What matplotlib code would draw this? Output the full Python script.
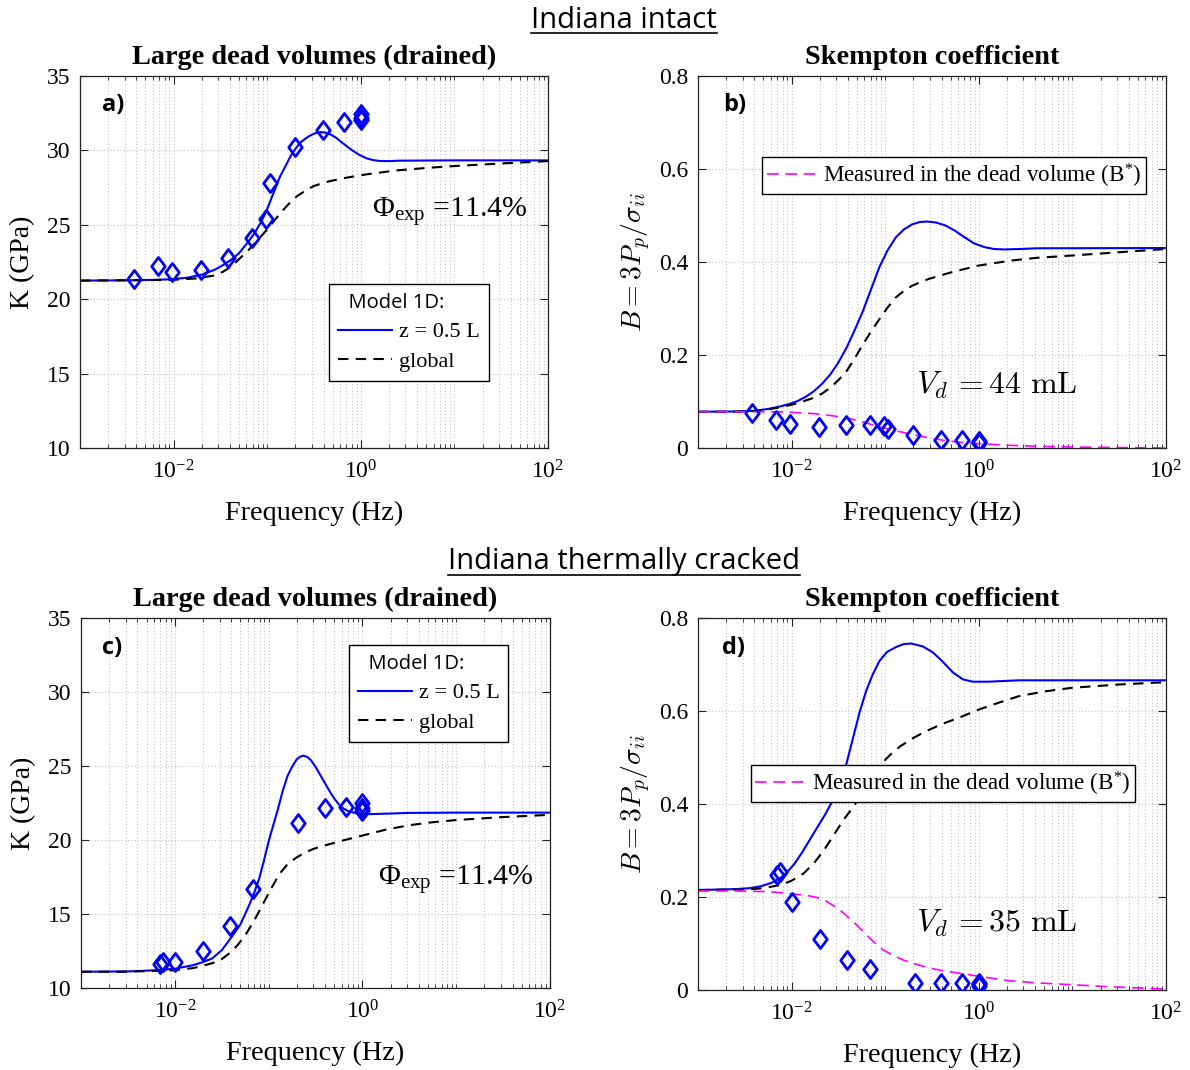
import numpy as np
import matplotlib
matplotlib.use('Agg')
import matplotlib.pyplot as plt
from matplotlib.path import Path
from matplotlib.ticker import FixedLocator, LogLocator, FuncFormatter, NullFormatter
from matplotlib.lines import Line2D

plt.rcParams['font.family'] = ['Liberation Serif', 'DejaVu Serif']
plt.rcParams['mathtext.fontset'] = 'custom'
plt.rcParams['mathtext.rm'] = 'Liberation Serif'
plt.rcParams['mathtext.it'] = 'Liberation Serif:italic'
plt.rcParams['mathtext.bf'] = 'Liberation Serif:bold'

# ---------------- data: Indiana intact ----------------
freq_intact = [0.0038, 0.0068, 0.0096, 0.0196, 0.038, 0.068, 0.096, 0.106,
               0.20, 0.39, 0.66, 1.0, 1.0, 1.0]
K_meas_intact = [21.34, 22.2, 21.85, 21.96, 22.79, 24.13, 25.39, 27.83,
                 30.25, 31.37, 31.93, 32.45, 32.2, 32.05]
B_meas_intact = [0.0755, 0.061, 0.0525, 0.045, 0.05, 0.05, 0.047, 0.040,
                 0.027, 0.018, 0.018, 0.016, 0.012, 0.010]

logf_Ka_z = [-3.0, -2.5, -2.2, -2.0, -1.85, -1.7, -1.56, -1.47, -1.38, -1.3, -1.21, -1.14,
             -1.07, -1.01, -0.96, -0.91, -0.86, -0.8, -0.75, -0.7, -0.645, -0.59, -0.54,
             -0.49, -0.433, -0.38, -0.327, -0.27, -0.222, -0.15, -0.082, -0.01, 0.06,
             0.13, 0.2, 0.3, 0.41, 1.0, 2.0]
K_a_z = [21.25, 21.27, 21.3, 21.35, 21.45, 21.65, 21.98, 22.3, 22.67, 23.1, 23.8, 24.4,
         25.14, 25.9, 26.7, 27.5, 28.28, 29.0, 29.62, 30.1, 30.52, 30.8, 31.0,
         31.15, 31.23, 31.2, 31.08, 30.88, 30.63, 30.28, 29.96, 29.68, 29.47,
         29.35, 29.29, 29.28, 29.31, 29.33, 29.33]
logf_Ka_g = [-3.0, -2.5, -2.0, -1.75, -1.56, -1.47, -1.38, -1.3, -1.21, -1.12, -1.03,
             -0.94, -0.856, -0.77, -0.68, -0.59, -0.504, -0.41, -0.327, -0.151, 0.06,
             0.374, 0.7, 1.0, 1.5, 2.0]
K_a_g = [21.25, 21.27, 21.3, 21.4, 21.6, 21.85, 22.22, 22.7, 23.23, 23.85, 24.47,
         25.15, 25.81, 26.4, 26.93, 27.3, 27.6, 27.8, 27.94, 28.17, 28.39,
         28.65, 28.82, 28.95, 29.12, 29.28]

logf_Bb_z = [-3.0, -2.6, -2.4, -2.25, -2.11, -2.02, -1.937, -1.85, -1.762, -1.675,
             -1.587, -1.5, -1.412, -1.325, -1.237, -1.15, -1.062, -0.975, -0.886, -0.8,
             -0.712, -0.63, -0.554, -0.46, -0.361, -0.26, -0.151, -0.05, 0.06, 0.16,
             0.27, 0.45, 0.62, 2.0]
B_b_z = [0.078, 0.0785, 0.080, 0.084, 0.09, 0.095, 0.1008, 0.11, 0.122, 0.138,
         0.158, 0.184, 0.216, 0.254, 0.295, 0.342, 0.389, 0.425, 0.453, 0.47,
         0.481, 0.486, 0.487, 0.485, 0.479, 0.468, 0.453, 0.44, 0.432, 0.428,
         0.427, 0.428, 0.4295, 0.43]
logf_Bb_g = [-3.0, -2.6, -2.4, -2.25, -2.11, -1.94, -1.762, -1.675, -1.587, -1.5,
             -1.412, -1.325, -1.237, -1.15, -1.062, -0.975, -0.886, -0.8, -0.712, -0.62,
             -0.536, -0.41, -0.291, -0.15, -0.011, 0.34, 0.62, 1.0, 1.5, 2.0]
B_b_g = [0.078, 0.0783, 0.0795, 0.083, 0.088, 0.096, 0.108, 0.117, 0.1295, 0.146,
         0.1655, 0.193, 0.223, 0.251, 0.277, 0.302, 0.324, 0.338, 0.349, 0.357,
         0.3635, 0.371, 0.378, 0.385, 0.392, 0.403, 0.409, 0.414, 0.421, 0.428]
logf_Bb_m = [-3.0, -2.5, -2.11, -1.94, -1.762, -1.59, -1.41, -1.24, -1.06, -0.885,
             -0.71, -0.54, -0.36, -0.18, -0.01, 0.3, 0.62, 1.0, 1.5, 2.0]
B_b_m = [0.078, 0.078, 0.0777, 0.076, 0.074, 0.07, 0.065, 0.056, 0.0454, 0.037,
         0.029, 0.022, 0.016, 0.012, 0.0095, 0.006, 0.0037, 0.002, 0.001, 0.0]

# ---------------- data: Indiana thermally cracked ----------------
freq_cracked = [0.0069, 0.0075, 0.0100, 0.020, 0.039, 0.068, 0.207, 0.398,
                0.667, 1.0, 1.0, 1.0]
K_meas_cracked = [11.6, 11.75, 11.74, 12.53, 14.21, 16.68, 21.17, 22.14,
                  22.23, 22.52, 22.18, 21.96]
B_meas_cracked = [0.248, 0.253, 0.19, 0.11, 0.0647, 0.0446, 0.0158, 0.0144,
                  0.0158, 0.0144, 0.008, 0.012]

logf_Kc_z = [-3.0, -2.5, -2.2, -2.0, -1.8, -1.7, -1.6, -1.5, -1.4, -1.3, -1.2, -1.15,
             -1.1, -1.05, -1.0, -0.95, -0.9, -0.85, -0.8, -0.75, -0.7, -0.665, -0.63,
             -0.59, -0.55, -0.5, -0.45, -0.4, -0.35, -0.3, -0.25, -0.2, -0.15, -0.05,
             0.05, 0.2, 0.5, 1.0, 2.0]
K_c_z = [11.1, 11.12, 11.2, 11.3, 11.55, 11.75, 12.0, 12.55, 13.4, 14.3, 15.7, 16.5,
         17.4, 18.6, 19.9, 21.0, 22.1, 23.3, 24.3, 24.95, 25.45, 25.62, 25.7,
         25.62, 25.4, 24.95, 24.4, 23.85, 23.3, 22.8, 22.4, 22.12, 21.95, 21.78,
         21.74, 21.77, 21.83, 21.85, 21.85]
logf_Kc_g = [-3.0, -2.5, -2.0, -1.8, -1.7, -1.59, -1.5, -1.416, -1.33, -1.24, -1.15,
             -1.06, -0.97, -0.885, -0.8, -0.707, -0.62, -0.53, -0.44, -0.35, -0.2, 0.0,
             0.25, 0.5, 0.75, 1.0, 1.5, 2.0]
K_c_g = [11.1, 11.1, 11.2, 11.35, 11.5, 11.7, 11.95, 12.35, 12.9, 13.65, 14.6,
         15.67, 16.75, 17.7, 18.35, 18.8, 19.12, 19.38, 19.57, 19.72, 19.98, 20.3,
         20.7, 21.0, 21.2, 21.35, 21.55, 21.7]

logf_Bd_z = [-3.0, -2.6, -2.45, -2.33, -2.22, -2.117, -2.05, -1.975, -1.89, -1.8,
             -1.71, -1.64, -1.57, -1.49, -1.416, -1.34, -1.27, -1.2, -1.13, -1.06,
             -0.98, -0.88, -0.8, -0.72, -0.6, -0.49, -0.38, -0.277, -0.17, -0.065,
             0.1, 0.43, 2.0]
B_d_z = [0.215, 0.217, 0.219, 0.223, 0.23, 0.241, 0.253, 0.27, 0.295, 0.325,
         0.355, 0.378, 0.404, 0.44, 0.485, 0.545, 0.6, 0.645, 0.68, 0.708,
         0.727, 0.738, 0.744, 0.745, 0.739, 0.726, 0.705, 0.683, 0.668, 0.663,
         0.663, 0.666, 0.666]
logf_Bd_g = [-3.0, -2.5, -2.3, -2.117, -2.0, -1.87, -1.76, -1.657, -1.55, -1.445,
             -1.37, -1.3, -1.2, -1.12, -1.04, -0.94, -0.84, -0.7, -0.56, -0.38,
             -0.206, 0.0, 0.2, 0.43, 0.7, 1.0, 1.5, 2.0]
B_d_g = [0.215, 0.216, 0.219, 0.226, 0.235, 0.251, 0.273, 0.3, 0.333, 0.366,
         0.386, 0.406, 0.44, 0.465, 0.487, 0.507, 0.524, 0.542, 0.557, 0.573,
         0.586, 0.603, 0.617, 0.632, 0.642, 0.65, 0.657, 0.662]
logf_Bd_m = [-3.0, -2.6, -2.33, -2.15, -1.975, -1.85, -1.73, -1.64, -1.55, -1.46,
             -1.38, -1.29, -1.2, -1.11, -1.02, -0.91, -0.81, -0.68, -0.56, -0.4,
             -0.206, 0.05, 0.32, 0.65, 1.02, 1.5, 2.0]
B_d_m = [0.213, 0.213, 0.212, 0.21, 0.206, 0.204, 0.199, 0.192, 0.181, 0.168,
         0.154, 0.137, 0.1185, 0.101, 0.086, 0.074, 0.0647, 0.056, 0.049, 0.042,
         0.036, 0.028, 0.020, 0.015, 0.011, 0.006, 0.002]

xticks = [1e-2, 1e0, 1e2]
K_ticks = [10, 15, 20, 25, 30, 35]
B_ticks = [0, 0.2, 0.4, 0.6, 0.8]

BLUE = '#0000ff'
MAG = '#ff00ff'
diamond = Path([(0, 1), (0.75, 0), (0, -1), (-0.75, 0), (0, 1)],
               [Path.MOVETO, Path.LINETO, Path.LINETO, Path.LINETO, Path.CLOSEPOLY])

fig = plt.figure(figsize=(11.9, 10.7), dpi=100)
W, H = 1190.0, 1070.0


def mk_ax(l, t, r, b):
    return fig.add_axes([l / W, 1 - b / H, (r - l) / W, (b - t) / H])


axa = mk_ax(80, 76, 548, 448)
axb = mk_ax(698, 76, 1166, 448)
axc = mk_ax(81, 618, 550, 988)
axd = mk_ax(698, 618, 1166, 990)


def style(ax, ylim, yticks):
    ax.set_xscale('log')
    ax.set_xlim(1e-3, 1e2)
    ax.set_ylim(*ylim)
    ax.xaxis.set_major_locator(FixedLocator(xticks))
    ax.xaxis.set_minor_locator(LogLocator(base=10, subs=np.arange(1, 10), numticks=100))
    ax.xaxis.set_minor_formatter(NullFormatter())
    ax.xaxis.set_major_formatter(FuncFormatter(lambda v, p: r'$10^{%d}$' % round(np.log10(v))))
    ax.set_yticks(yticks)
    ax.yaxis.set_major_formatter(FuncFormatter(lambda v, p: '%g' % v))
    ax.tick_params(which='both', direction='in', top=True, right=True, labelsize=17,
                   color='#222222')
    ax.tick_params(which='major', length=6, width=0.8)
    ax.tick_params(axis='x', which='major', pad=9)
    ax.tick_params(axis='y', which='major', pad=7)
    ax.tick_params(which='minor', length=3, width=0.6)
    ax.grid(which='major', linestyle=(0, (1, 2)), color='#c4c4c4', linewidth=0.8)
    ax.grid(which='minor', axis='x', linestyle=(0, (1, 2)), color='#c4c4c4', linewidth=0.8)
    ax.set_axisbelow(True)
    for s in ax.spines.values():
        s.set_linewidth(0.9)
        s.set_color('#222222')
    ax.set_xlabel('Frequency (Hz)', fontsize=20.3, labelpad=12)


mkw = dict(marker=diamond, markersize=13, markerfacecolor='none', markeredgecolor=BLUE,
           markeredgewidth=2.0, linestyle='none', zorder=5)

TFS = 20.3

# panel a
style(axa, (10, 35), K_ticks)
axa.plot(10 ** np.array(logf_Ka_z), K_a_z, color=BLUE, lw=1.5)
axa.plot(10 ** np.array(logf_Ka_g), K_a_g, color='k', lw=1.5, dashes=(5, 3.5))
axa.plot(freq_intact, K_meas_intact, **mkw)
axa.set_ylabel('K (GPa)', fontsize=20, labelpad=8)
axa.set_title('Large dead volumes (drained)', fontsize=TFS, fontweight='bold', pad=9)

# panel b
style(axb, (0, 0.8), B_ticks)
axb.plot(10 ** np.array(logf_Bb_z), B_b_z, color=BLUE, lw=1.5)
axb.plot(10 ** np.array(logf_Bb_g), B_b_g, color='k', lw=1.5, dashes=(5, 3.5))
axb.plot(10 ** np.array(logf_Bb_m), B_b_m, color=MAG, lw=1.2, dashes=(7, 4))
axb.plot(freq_intact, B_meas_intact, **mkw)
axb.set_ylabel(r'$B=3P_p/\sigma_{ii}$', fontsize=20, labelpad=4, math_fontfamily='cm')
axb.set_title('Skempton coefficient', fontsize=TFS, fontweight='bold', pad=9)

# panel c
style(axc, (10, 35), K_ticks)
axc.plot(10 ** np.array(logf_Kc_z), K_c_z, color=BLUE, lw=1.5)
axc.plot(10 ** np.array(logf_Kc_g), K_c_g, color='k', lw=1.5, dashes=(5, 3.5))
axc.plot(freq_cracked, K_meas_cracked, **mkw)
axc.set_ylabel('K (GPa)', fontsize=20, labelpad=8)
axc.set_title('Large dead volumes (drained)', fontsize=TFS, fontweight='bold', pad=9)

# panel d
style(axd, (0, 0.8), B_ticks)
axd.plot(10 ** np.array(logf_Bd_z), B_d_z, color=BLUE, lw=1.5)
axd.plot(10 ** np.array(logf_Bd_g), B_d_g, color='k', lw=1.5, dashes=(5, 3.5))
axd.plot(10 ** np.array(logf_Bd_m), B_d_m, color=MAG, lw=1.2, dashes=(7, 4))
axd.plot(freq_cracked, B_meas_cracked, **mkw)
axd.set_ylabel(r'$B=3P_p/\sigma_{ii}$', fontsize=20, labelpad=4, math_fontfamily='cm')
axd.set_title('Skempton coefficient', fontsize=TFS, fontweight='bold', pad=9)

# panel letters
for ax, lab, x, y in [(axa, 'a)', 0.047, 0.922), (axb, 'b)', 0.053, 0.922),
                      (axc, 'c)', 0.045, 0.919), (axd, 'd)', 0.051, 0.919)]:
    ax.text(x, y, lab, transform=ax.transAxes, fontsize=17, fontweight='bold',
            family=['Open Sans', 'DejaVu Sans'], ha='left', va='center')

# annotations
for ax, x, y in [(axa, 0.624, 0.636), (axc, 0.633, 0.292)]:
    ax.text(x, y, r'$\Phi_{\mathrm{exp}}$ =11.4%', transform=ax.transAxes,
            fontsize=21.5, ha='left', va='center')
axb.text(0.465, 0.169, r'$V_d\, = 44\ \mathrm{mL}$', transform=axb.transAxes,
         fontsize=23, ha='left', va='center', math_fontfamily='cm')
axd.text(0.465, 0.18, r'$V_d\, = 35\ \mathrm{mL}$', transform=axd.transAxes,
         fontsize=23, ha='left', va='center', math_fontfamily='cm')

# legends
leg_kw = dict(frameon=True, fancybox=False, framealpha=1, edgecolor='k',
              borderaxespad=0)


def model_legend(ax, anchor):
    lg_ = ax.legend([Line2D([], [], color=BLUE, lw=1.5),
                     Line2D([], [], color='k', lw=1.5, dashes=(5, 3.5))],
                    ['z = 0.5 L', 'global'], loc='upper left', bbox_to_anchor=anchor,
                    title='  Model 1D:', prop={'size': 16}, handlelength=2.45,
                    handletextpad=0.3, labelspacing=0.4, borderpad=0.4, alignment='left',
                    title_fontproperties={'family': ['Open Sans', 'DejaVu Sans'], 'size': 14.5},
                    **leg_kw)
    lg_.get_frame().set_linewidth(1.0)
    return lg_


model_legend(axa, (0.532, 0.441))
model_legend(axc, (0.571, 0.927))

for ax, anchor in [(axb, (0.137, 0.782)), (axd, (0.113, 0.605))]:
    lgm = ax.legend([Line2D([], [], color=MAG, lw=1.2, dashes=(7, 4))],
                    [r'Measured in the dead volume (B$^{*}$)'], loc='upper left',
                    bbox_to_anchor=anchor, prop={'size': 16.6}, handlelength=2.25,
                    handletextpad=0.2, borderpad=0.2, **leg_kw)
    lgm.get_frame().set_linewidth(1.0)

# section titles (underlined)
tt = []
for y, s in [(20, 'Indiana intact'), (562, 'Indiana thermally cracked')]:
    t = fig.text(624 / W, 1 - y / H, s, fontsize=21, family=['Open Sans', 'DejaVu Sans'],
                 ha='center', va='center')
    tt.append(t)
fig.canvas.draw()
r = fig.canvas.get_renderer()
for t in tt:
    bb = t.get_window_extent(renderer=r)
    yb = bb.y0 + 2
    fig.add_artist(Line2D([bb.x0 / W, bb.x1 / W], [yb / H, yb / H],
                          transform=fig.transFigure, color='k', lw=1.2))

fig.savefig('out.png', dpi=100)
